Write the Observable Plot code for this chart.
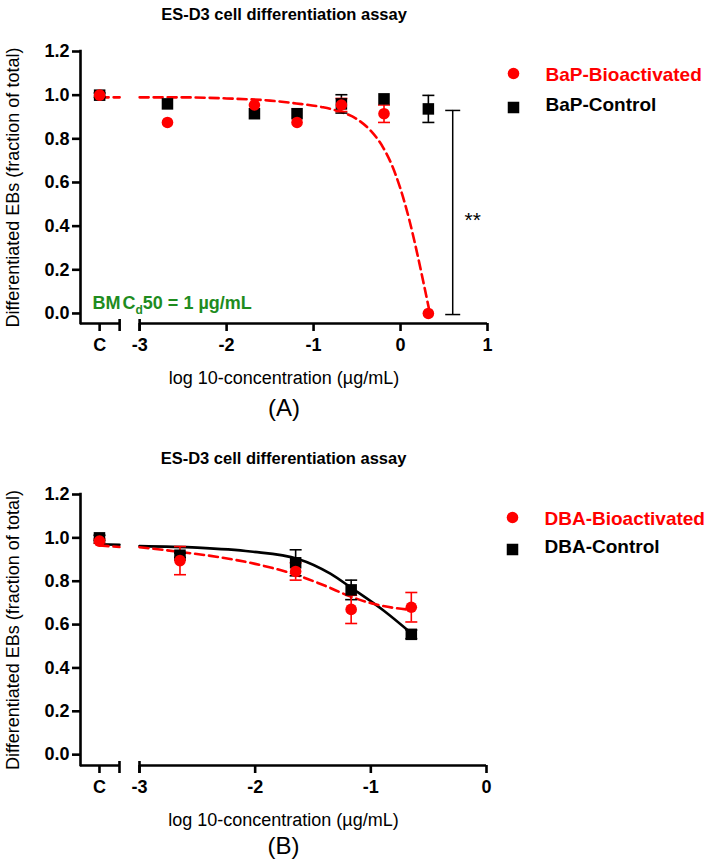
<!DOCTYPE html>
<html><head><meta charset="utf-8">
<script src="https://cdn.jsdelivr.net/npm/d3@7"></script>
<script src="https://cdn.jsdelivr.net/npm/@observablehq/plot@0.6"></script>
<style>
body{margin:0;background:#fff;width:709px;height:866px;overflow:hidden}
#chart svg{display:block}
</style></head><body><div id="chart"></div>
<script>
// ---------- Shared texts ----------
const chartTitle = "ES-D3 cell differentiation assay";
const yTitle = "Differentiated EBs (fraction of total)";
const xTitle = "log 10-concentration (µg/mL)";
const yTicks = [0, 0.2, 0.4, 0.6, 0.8, 1.0, 1.2];

// ---------- Panel A (BaP) ----------
const aLabel = "(A)";
const aSeries = ["BaP-Bioactivated", "BaP-Control"];
const aXTicks = ["C", -3, -2, -1, 0, 1];
const aXTickLabels = ["C", "-3", "-2", "-1", "0", "1"];
const aConc = ["C", -2.68, -1.68, -1.19, -0.68, -0.19, 0.32];
const aBioMean = [1.0, 0.875, 0.955, 0.875, 0.955, 0.915, 0.0];
const aBioErr = [0.0, 0.0, 0.0, 0.0, 0.03, 0.04, 0.0];
const aCtrlMean = [1.0, 0.96, 0.915, 0.915, 0.96, 0.983, 0.937];
const aCtrlErr = [0.01, 0.0, 0.0, 0.0, 0.042, 0.0, 0.062];
// fitted curve: part over the "C" stub and main part
const aBioFitStubX = ["C", "break"];
const aBioFitStubY = [0.99, 0.99];
const aBioFitX = [-3, -2.5, -2, -1.5, -1.2, -0.9, -0.7, -0.5, -0.35, -0.2, -0.1, 0, 0.1, 0.2, 0.27, 0.325];
const aBioFitY = [0.99, 0.99, 0.985, 0.975, 0.962, 0.945, 0.925, 0.89, 0.84, 0.76, 0.68, 0.57, 0.43, 0.26, 0.13, 0.025];
const aBmcText = "BMCd50 = 1 µg/mL";
const aSig = {x: 0.6, top: 0.93, bottom: -0.005, label: "**"};

// ---------- Panel B (DBA) ----------
const bLabel = "(B)";
const bSeries = ["DBA-Bioactivated", "DBA-Control"];
const bXTicks = ["C", -3, -2, -1, 0];
const bXTickLabels = ["C", "-3", "-2", "-1", "0"];
const bConc = ["C", -2.65, -1.65, -1.17, -0.65];
const bBioMean = [0.985, 0.895, 0.845, 0.67, 0.68];
const bBioErr = [0.01, 0.065, 0.04, 0.065, 0.068];
const bCtrlMean = [1.0, 0.92, 0.885, 0.76, 0.555];
const bCtrlErr = [0.012, 0.01, 0.06, 0.045, 0.02];
const bBioFitStubX = ["C", "break"];
const bBioFitStubY = [0.965, 0.958];
const bBioFitX = [-3, -2.65, -2.3, -2.0, -1.65, -1.4, -1.17, -0.97, -0.8, -0.65];
const bBioFitY = [0.957, 0.935, 0.91, 0.88, 0.83, 0.78, 0.728, 0.695, 0.677, 0.668];
const bCtrlFitStubX = ["C", "break"];
const bCtrlFitStubY = [0.97, 0.968];
const bCtrlFitX = [-3, -2.5, -2.04, -1.63, -1.35, -1.17, -0.89, -0.65];
const bCtrlFitY = [0.962, 0.955, 0.937, 0.903, 0.835, 0.77, 0.665, 0.56];

// ---------- Styles ----------
const RED = "#ff0000", BLACK = "#000000", GREEN = "#1e8c1e";
const FONT = "'Liberation Sans', Arial, Helvetica, sans-serif";

const vTick = {draw(ctx) { ctx.moveTo(0, -4.5); ctx.lineTo(0, 7.5); }};
const hCap = {draw(ctx) { ctx.moveTo(-6, 0); ctx.lineTo(6, 0); }};
const hCapWide = {draw(ctx) { ctx.moveTo(-7.5, 0); ctx.lineTo(7.5, 0); }};

function panel(cfg) {
  const pos = v => v === "C" ? cfg.cPos : v === "break" ? cfg.breakEnd : v;
  const rows = (conc, mean, err) => conc.map((c, i) => ({x: pos(c), y: mean[i], lo: mean[i] - err[i], hi: mean[i] + err[i], e: err[i]}));
  const bio = rows(cfg.conc, cfg.bioMean, cfg.bioErr);
  const ctrl = rows(cfg.conc, cfg.ctrlMean, cfg.ctrlErr);
  const bioE = bio.filter(d => d.e > 0), ctrlE = ctrl.filter(d => d.e > 0);
  const pts = (xs, ys) => xs.map((x, i) => ({x: pos(x), y: ys[i]}));
  const tickLabel = new Map(cfg.xTicks.map((t, i) => [pos(t), cfg.xTickLabels[i]]));
  const xSegs = [{x1: cfg.xMin, x2: cfg.breakEnd, y: cfg.yMin}, {x1: -3, x2: cfg.xMax, y: cfg.yMin}];
  const yLine = [{x: cfg.xMin, y1: cfg.yMin, y2: 1.2}];
  const breakTicks = [cfg.breakEnd, -3];
  const dash = {x: "x", y: "y", stroke: RED, strokeWidth: 2.6, strokeDasharray: "9,5", curve: "monotone-x"};
  const solid = {x: "x", y: "y", stroke: BLACK, strokeWidth: 2.6, curve: "monotone-x"};

  const marks = [
    // axes
    Plot.ruleX(yLine, {x: "x", y1: "y1", y2: "y2", strokeWidth: 2.6, strokeLinecap: "square"}),
    Plot.ruleY(xSegs, {x1: "x1", x2: "x2", y: "y", strokeWidth: 2.6}),
    Plot.axisY({ticks: yTicks, tickFormat: d3.format(".1f"), tickSize: 8, tickPadding: 3, strokeWidth: 2.6, label: null, fontSize: 18, fontWeight: "bold"}),
    Plot.axisX({ticks: cfg.xTicks.map(pos), tickFormat: d => tickLabel.get(d), tickSize: 8, tickPadding: 7, strokeWidth: 2.6, label: null, fontSize: 18, fontWeight: "bold"}),
    Plot.dot(breakTicks, {x: d => d, y: () => cfg.yMin, symbol: vTick, fill: "none", stroke: BLACK, strokeWidth: 2.6, r: 5}),
    // texts
    Plot.text([chartTitle], {frameAnchor: "top", lineAnchor: "bottom", dy: cfg.titleDy, fontSize: 16.5, fontWeight: "bold"}),
    Plot.text([yTitle], {frameAnchor: "left", textAnchor: "middle", lineAnchor: "middle", rotate: -90, dx: -67, fontSize: 18, fontWeight: "normal"}),
    Plot.text([xTitle], {frameAnchor: "bottom", lineAnchor: "bottom", dy: cfg.xTitleDy, fontSize: 18, fontWeight: "normal"}),
    Plot.text([cfg.label], {frameAnchor: "bottom", lineAnchor: "bottom", dy: cfg.labelDy, fontSize: 24, fontWeight: "normal"}),
    // legend
    Plot.dot([cfg.series[0]], {frameAnchor: "top-right", dx: 26, dy: cfg.legDy, symbol: "circle", r: 5.8, fill: RED}),
    Plot.dot([cfg.series[1]], {frameAnchor: "top-right", dx: 26, dy: cfg.legDy + cfg.legStep, symbol: "square", r: 6.5, fill: BLACK}),
    Plot.text([cfg.series[0]], {frameAnchor: "top-right", textAnchor: "start", lineAnchor: "middle", dx: 58, dy: cfg.legDy + 1, fontSize: 19, fontWeight: "bold", fill: RED}),
    Plot.text([cfg.series[1]], {frameAnchor: "top-right", textAnchor: "start", lineAnchor: "middle", dx: 58, dy: cfg.legDy + cfg.legStep - 3, fontSize: 19, fontWeight: "bold", fill: BLACK}),
  ];
  // fitted curves
  if (cfg.ctrlFit) {
    marks.push(Plot.line(pts(cfg.ctrlFitStubX, cfg.ctrlFitStubY), solid));
    marks.push(Plot.line(pts(cfg.ctrlFitX, cfg.ctrlFitY), solid));
  }
  marks.push(Plot.line(pts(cfg.bioFitStubX, cfg.bioFitStubY), dash));
  marks.push(Plot.line(pts(cfg.bioFitX, cfg.bioFitY), dash));
  // error bars
  marks.push(
    Plot.ruleX(ctrlE, {x: "x", y1: "lo", y2: "hi", stroke: BLACK, strokeWidth: 1.6}),
    Plot.dot(ctrlE, {x: "x", y: "lo", symbol: hCap, fill: "none", stroke: BLACK, strokeWidth: 1.6}),
    Plot.dot(ctrlE, {x: "x", y: "hi", symbol: hCap, fill: "none", stroke: BLACK, strokeWidth: 1.6}),
    Plot.ruleX(bioE, {x: "x", y1: "lo", y2: "hi", stroke: RED, strokeWidth: 1.6}),
    Plot.dot(bioE, {x: "x", y: "lo", symbol: hCap, fill: "none", stroke: RED, strokeWidth: 1.6}),
    Plot.dot(bioE, {x: "x", y: "hi", symbol: hCap, fill: "none", stroke: RED, strokeWidth: 1.6}),
    Plot.dot(ctrl, {x: "x", y: "y", symbol: "square", r: 6.5, fill: BLACK}),
    Plot.dot(bio, {x: "x", y: "y", symbol: "circle", r: 5.8, fill: RED})
  );
  if (cfg.sig) {
    const s = [cfg.sig];
    marks.push(
      Plot.ruleX(s, {x: "x", y1: "bottom", y2: "top", stroke: BLACK, strokeWidth: 1.5}),
      Plot.dot(s, {x: "x", y: "top", symbol: hCapWide, fill: "none", stroke: BLACK, strokeWidth: 1.5}),
      Plot.dot(s, {x: "x", y: "bottom", symbol: hCapWide, fill: "none", stroke: BLACK, strokeWidth: 1.5}),
      Plot.text(s, {x: "x", y: d => (d.top + d.bottom) / 2, text: "label", dx: 20, dy: 8, fontSize: 21, fontWeight: "normal"})
    );
  }
  if (cfg.bmc) {
    marks.push(Plot.text([cfg.bmc], {frameAnchor: "bottom-left", textAnchor: "start", lineAnchor: "bottom", dx: 12, dy: -15, fontSize: 18, fontWeight: "bold", fill: GREEN}));
  }
  const svg = Plot.plot({
    width: 709, height: 433,
    marginLeft: 80, marginRight: cfg.marginRight, marginTop: cfg.marginTop, marginBottom: cfg.marginBottom,
    x: {domain: [cfg.xMin, cfg.xMax]},
    y: {domain: [cfg.yMin, 1.2]},
    style: {fontFamily: FONT, fontSize: "18px", fontWeight: "bold", color: "#000", background: "#fff", overflow: "visible"},
    marks
  });
  // subscript d in BMCd50
  if (cfg.bmc) {
    svg.querySelectorAll("text").forEach(t => {
      if (t.textContent === cfg.bmc) {
        const NS = "http://www.w3.org/2000/svg";
        while (t.firstChild) t.removeChild(t.firstChild);
        const parts = [["BM", {}], ["C", {dx: 2}], ["d", {dy: 5, "font-size": 12}], ["50 = 1 µg/mL", {dy: -5}]];
        for (const [txt, attrs] of parts) {
          const sp = document.createElementNS(NS, "tspan");
          for (const k in attrs) sp.setAttribute(k, attrs[k]);
          sp.textContent = txt;
          t.appendChild(sp);
        }
      }
    });
  }
  return svg;
}

const root = document.getElementById("chart");
root.appendChild(panel({
  xMin: -3.68, xMax: 1, yMin: -0.046, cPos: -3.46, breakEnd: -3.23,
  marginRight: 222, marginTop: 51, marginBottom: 110,
  titleDy: -32, xTitleDy: 60, labelDy: 92, legDy: 22, legStep: 34,
  label: aLabel, series: aSeries, xTicks: aXTicks, xTickLabels: aXTickLabels,
  conc: aConc, bioMean: aBioMean, bioErr: aBioErr, ctrlMean: aCtrlMean, ctrlErr: aCtrlErr,
  bioFitStubX: aBioFitStubX, bioFitStubY: aBioFitStubY, bioFitX: aBioFitX, bioFitY: aBioFitY,
  sig: aSig, bmc: aBmcText
}));
root.appendChild(panel({
  xMin: -3.51, xMax: 0, yMin: -0.05, cPos: -3.346, breakEnd: -3.173,
  marginRight: 223, marginTop: 61, marginBottom: 101,
  titleDy: -31, xTitleDy: 60, labelDy: 88, legDy: 23, legStep: 32,
  label: bLabel, series: bSeries, xTicks: bXTicks, xTickLabels: bXTickLabels,
  conc: bConc, bioMean: bBioMean, bioErr: bBioErr, ctrlMean: bCtrlMean, ctrlErr: bCtrlErr,
  bioFitStubX: bBioFitStubX, bioFitStubY: bBioFitStubY, bioFitX: bBioFitX, bioFitY: bBioFitY,
  ctrlFit: true, ctrlFitStubX: bCtrlFitStubX, ctrlFitStubY: bCtrlFitStubY, ctrlFitX: bCtrlFitX, ctrlFitY: bCtrlFitY
}));
</script></body></html>
